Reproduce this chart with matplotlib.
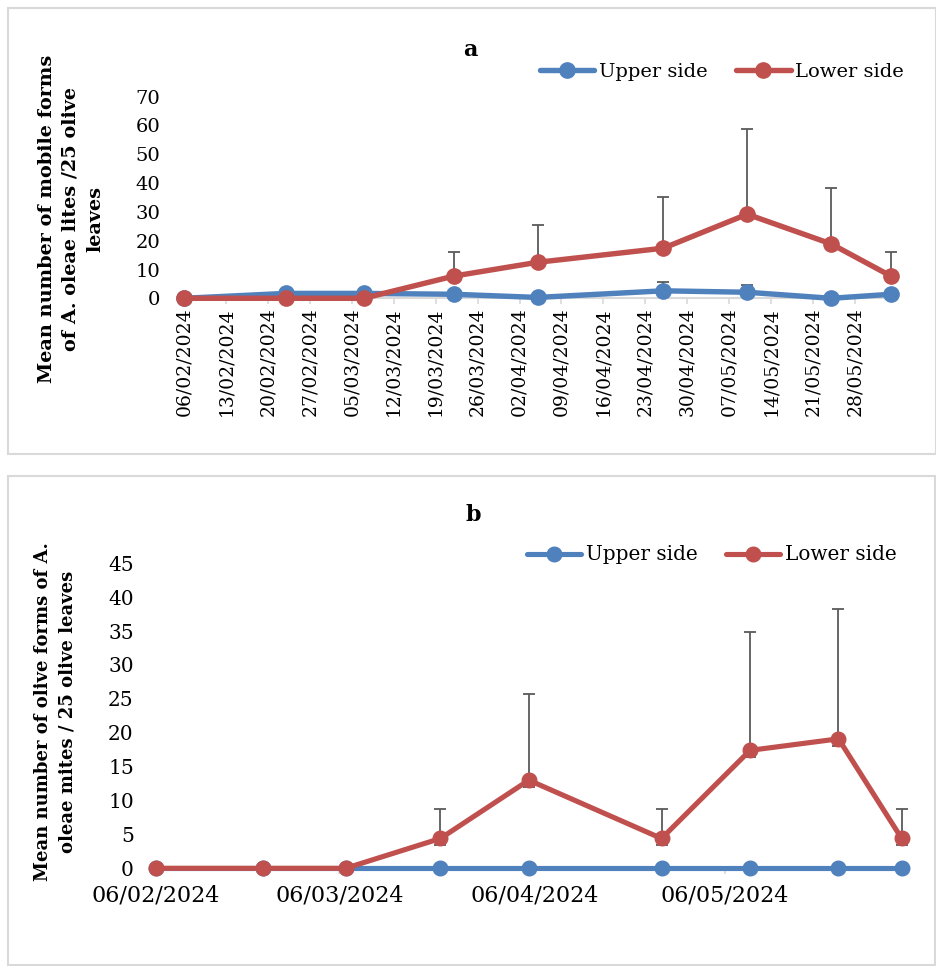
import matplotlib
matplotlib.use("Agg")
import matplotlib.pyplot as plt
from matplotlib.patches import Rectangle
import numpy as np
import pandas as pd

# ---------------- data ----------------
sample_dates = ["2024-02-06", "2024-02-23", "2024-03-07", "2024-03-22", "2024-04-05",
                "2024-04-26", "2024-05-10", "2024-05-24", "2024-06-03"]

# panel a : mobile forms
upper_a = [0, 1.7, 1.7, 1.4, 0.3, 2.6, 2.1, 0, 1.4]
upper_a_err = [0, 0, 0, 0, 0, 3.2, 2.6, 0, 0]
lower_a = [0, 0, 0, 7.7, 12.5, 17.4, 29.2, 18.9, 7.7]
lower_a_err = [0, 0, 0, 8.3, 12.9, 17.9, 29.5, 19.5, 8.3]

# panel b : olive forms
upper_b = [0, 0, 0, 0, 0, 0, 0, 0, 0]
lower_b = [0, 0, 0, 4.4, 13.0, 4.4, 17.4, 19.1, 4.4]
lower_b_err_plus = [0, 0, 0, 4.4, 12.7, 4.4, 17.5, 19.2, 4.4]
lower_b_err_minus = [0, 0, 0, 1.0, 1.0, 1.0, 1.0, 1.0, 1.0]

ticks_a = ["06/02/2024", "13/02/2024", "20/02/2024", "27/02/2024", "05/03/2024",
           "12/03/2024", "19/03/2024", "26/03/2024", "02/04/2024", "09/04/2024",
           "16/04/2024", "23/04/2024", "30/04/2024", "07/05/2024", "14/05/2024",
           "21/05/2024", "28/05/2024"]
ticks_b = ["06/02/2024", "06/03/2024", "06/04/2024", "06/05/2024"]
x_range = ["2024-02-06", "2024-06-04"]

series_names = ["Upper side", "Lower side"]
title_a = "a"
title_b = "b"
ylabel_a = "Mean number of mobile forms\nof A. oleae lites /25 olive\nleaves"
ylabel_b = "Mean number of olive forms of A.\noleae mites / 25 olive leaves"

# ---------------- style ----------------
BLUE = "#4F81BD"
RED = "#C0504D"
ERR = "#5A5A5A"
GRID = "#D9D9D9"
FONT = "DejaVu Serif"
plt.rcParams["font.family"] = [FONT, "DejaVu Sans"]

W, H = 937, 966
fig = plt.figure(figsize=(W / 100, H / 100), dpi=100)


def fx(px):
    return px / W


def fy(py):
    return 1 - py / H


# panel frames
for (x0, y0, x1, y1) in [(8, 8, 936, 454), (8, 476, 935, 965)]:
    fig.patches.append(Rectangle((fx(x0), fy(y1)), fx(x1) - fx(x0), fy(y0) - fy(y1),
                                 transform=fig.transFigure, fill=False,
                                 edgecolor=GRID, linewidth=1.5, zorder=0))

x = pd.to_datetime(sample_dates)
xl = pd.to_datetime(x_range)


def draw_series(ax, y, err_minus, err_plus, color, lw, ms, cap):
    y = np.asarray(y, float)
    em = np.asarray(err_minus, float)
    ep = np.asarray(err_plus, float)
    mask = (em > 0) | (ep > 0)
    if mask.any():
        ax.errorbar(x[mask], y[mask], yerr=[em[mask], ep[mask]], fmt="none",
                    ecolor=ERR, elinewidth=1.3, capsize=cap, capthick=1.3, zorder=2)
    line, = ax.plot(x, y, color=color, lw=lw, marker="o", ms=ms,
                    markerfacecolor=color, markeredgecolor=color, zorder=3,
                    solid_capstyle="round")
    return line


def style_axis(ax):
    for s in ["top", "right", "left"]:
        ax.spines[s].set_visible(False)
    ax.spines["bottom"].set_color(GRID)
    ax.spines["bottom"].set_linewidth(1.5)
    ax.tick_params(axis="y", length=0)
    ax.tick_params(axis="x", direction="out", length=4.5, color=GRID, width=1.2)
    ax.set_xlim(xl[0], xl[1])


def unclip(ax):
    for art in ax.get_children():
        try:
            art.set_clip_on(False)
        except Exception:
            pass


# ---------------- panel a ----------------
axa = fig.add_axes([fx(184), fy(298.3), fx(897) - fx(184), fy(96.7) - fy(298.3)])
la1 = draw_series(axa, upper_a, [0] * 9, upper_a_err, BLUE, 3.9, 11, 4.3)
la2 = draw_series(axa, lower_a, [0] * 9, lower_a_err, RED, 3.9, 11, 4.3)
unclip(axa)
style_axis(axa)
axa.set_ylim(0, 70)
axa.set_yticks(np.arange(0, 71, 10))
axa.tick_params(axis="y", labelsize=14, pad=17)
ta = pd.to_datetime(ticks_a, format="%d/%m/%Y")
axa.set_xticks(ta)
axa.set_xticklabels(ticks_a, rotation=90, fontsize=13.5)
axa.tick_params(axis="x", pad=2)

fig.text(fx(470), fy(50), title_a, fontsize=16, fontweight="bold",
         ha="center", va="center")
fig.text(fx(71), fy(219), ylabel_a, fontsize=13.9, fontweight="bold",
         rotation=90, ha="center", va="center", multialignment="center",
         linespacing=1.45)
fig.legend([la1, la2], series_names, loc="center left",
           bbox_to_anchor=(fx(540), fy(71.7)), ncol=2, frameon=False,
           fontsize=14, handlelength=2.8, handletextpad=0.25,
           columnspacing=1.45, borderpad=0, borderaxespad=0)

# ---------------- panel b ----------------
axb = fig.add_axes([fx(156), fy(868.3), fx(908) - fx(156), fy(563.3) - fy(868.3)])
lb1 = draw_series(axb, upper_b, [0] * 9, [0] * 9, BLUE, 3.7, 10.5, 4.3)
lb2 = draw_series(axb, lower_b, lower_b_err_minus, lower_b_err_plus, RED, 3.7, 10.5, 4.3)
unclip(axb)
style_axis(axb)
axb.set_ylim(0, 45)
axb.set_yticks(np.arange(0, 46, 5))
axb.tick_params(axis="y", labelsize=14.5, pad=16)
tb = pd.to_datetime(ticks_b, format="%d/%m/%Y")
axb.set_xticks(tb)
axb.set_xticklabels(ticks_b, fontsize=16)
axb.tick_params(axis="x", pad=7)

fig.text(fx(473), fy(515), title_b, fontsize=16, fontweight="bold",
         ha="center", va="center")
fig.text(fx(55), fy(712), ylabel_b, fontsize=13, fontweight="bold",
         rotation=90, ha="center", va="center", multialignment="center",
         linespacing=1.46)
fig.legend([lb1, lb2], series_names, loc="center left",
           bbox_to_anchor=(fx(526.7), fy(555)), ncol=2, frameon=False,
           fontsize=14.4, handlelength=2.7, handletextpad=0.25,
           columnspacing=1.45, borderpad=0, borderaxespad=0)

fig.savefig("out.png", dpi=100)
